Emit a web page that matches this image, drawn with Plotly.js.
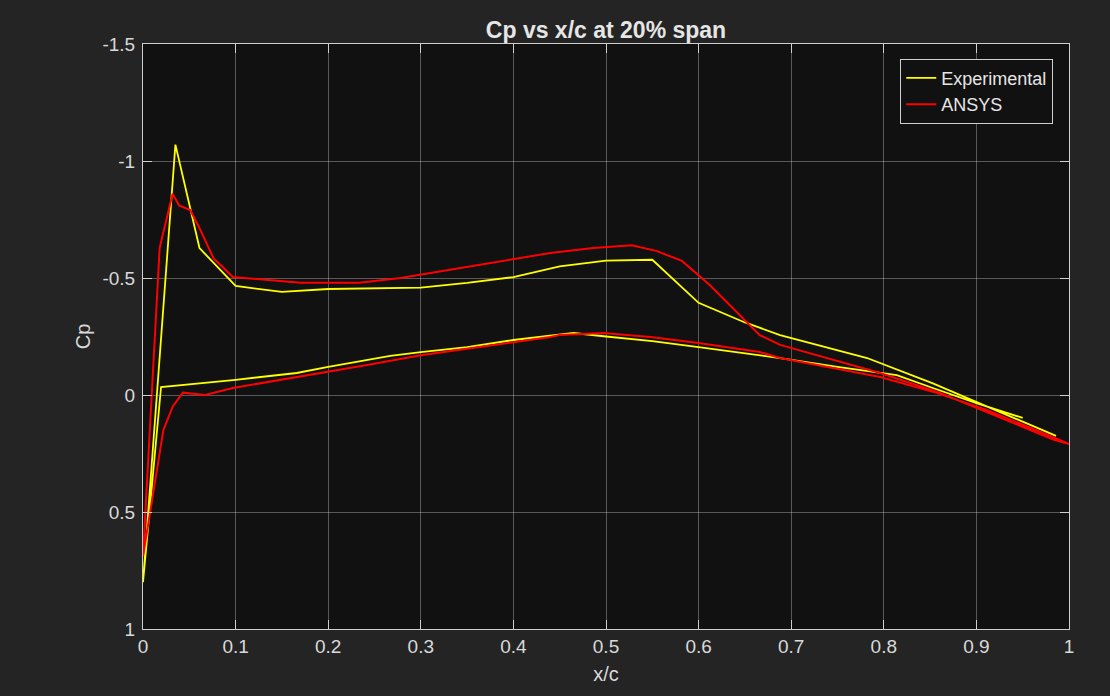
<!DOCTYPE html>
<html>
<head>
<meta charset="utf-8">
<script src="https://cdn.plot.ly/plotly-3.0.1.min.js"></script>
<style>
html,body{margin:0;padding:0;background:#242424;}
#chart{width:1110px;height:696px;}
</style>
</head>
<body>
<div id="chart"></div>
<script>
// Experimental: lower surface TE -> LE, then upper surface LE -> TE
const expX = [0.95, 0.9, 0.853, 0.814, 0.75, 0.688, 0.6, 0.55, 0.5, 0.465, 0.4, 0.35, 0.3, 0.267, 0.2, 0.166, 0.1, 0.062, 0.0195, 0.0,
              0.035, 0.061, 0.1, 0.15, 0.2, 0.3, 0.35, 0.4, 0.45, 0.5, 0.55, 0.6, 0.65, 0.688, 0.782, 0.853, 0.9, 0.986];
const expCp = [0.098, 0.035, -0.03, -0.085, -0.12, -0.158, -0.205, -0.23, -0.25, -0.265, -0.235, -0.205, -0.183, -0.167, -0.12, -0.094, -0.065, -0.05, -0.034, 0.80,
               -1.07, -0.628, -0.466, -0.441, -0.453, -0.459, -0.479, -0.504, -0.55, -0.574, -0.578, -0.394, -0.31, -0.256, -0.158, -0.05, 0.03, 0.175];

// ANSYS: lower surface TE -> LE, then upper surface LE -> TE
const ansX = [1.0, 0.983, 0.911, 0.857, 0.796, 0.688, 0.666, 0.6, 0.548, 0.497, 0.45, 0.44, 0.3, 0.242, 0.097, 0.067, 0.043, 0.032, 0.022, 0.0,
              0.018, 0.032, 0.039, 0.051, 0.062, 0.076, 0.086, 0.097, 0.17, 0.234, 0.278, 0.35, 0.44, 0.486, 0.528, 0.555, 0.582, 0.612, 0.666, 0.688, 0.796, 0.86, 0.983, 1.0];
const ansCp = [0.21, 0.18, 0.064, -0.009, -0.077, -0.158, -0.184, -0.222, -0.248, -0.265, -0.256, -0.248, -0.17, -0.128, -0.03, 0.0, -0.01, 0.05, 0.15, 0.69,
               -0.63, -0.86, -0.81, -0.79, -0.705, -0.585, -0.547, -0.504, -0.48, -0.48, -0.5, -0.547, -0.607, -0.628, -0.64, -0.615, -0.573, -0.47, -0.256, -0.214, -0.094, -0.01, 0.19, 0.21];

const xTicks = [0, 0.1, 0.2, 0.3, 0.4, 0.5, 0.6, 0.7, 0.8, 0.9, 1];
const xTickText = ['0', '0.1', '0.2', '0.3', '0.4', '0.5', '0.6', '0.7', '0.8', '0.9', '1'];
const yTicks = [-1.5, -1, -0.5, 0, 0.5, 1];
const yTickText = ['-1.5', '-1', '-0.5', '0', '0.5', '1'];

const font = 'Liberation Sans, Arial, Helvetica, sans-serif';

const traces = [
  {x: expX, y: expCp, name: 'Experimental', mode: 'lines', line: {color: '#ffff00', width: 1.8}},
  {x: ansX, y: ansCp, name: 'ANSYS', mode: 'lines', line: {color: '#ff0000', width: 2}}
];

const axisCommon = {
  showline: true, mirror: 'ticks', linecolor: '#cfcfcf', linewidth: 1,
  ticks: 'inside', ticklen: 9, tickcolor: '#cfcfcf', tickwidth: 1,
  showgrid: true, gridcolor: 'rgba(255,255,255,0.3)', gridwidth: 1,
  zeroline: false,
  tickfont: {family: font, size: 19, color: '#d9d9d9'}
};

const layout = {
  width: 1110, height: 696,
  paper_bgcolor: '#242424', plot_bgcolor: '#111111',
  margin: {l: 143, r: 41, t: 44, b: 67},
  title: {text: '<b>Cp vs x/c at 20% span</b>', xref: 'paper', x: 0.5, xanchor: 'center', yref: 'container', y: 0.957, yanchor: 'middle',
          font: {family: font, size: 23, color: '#e6e6e6'}},
  xaxis: Object.assign({}, axisCommon, {
    range: [0, 1], tickvals: xTicks, ticktext: xTickText,
    title: {text: 'x/c', font: {family: font, size: 20, color: '#d9d9d9'}, standoff: 11}
  }),
  yaxis: Object.assign({}, axisCommon, {
    range: [1, -1.5], tickvals: yTicks, ticktext: yTickText, ticklabelstandoff: 3,
    title: {text: 'Cp', font: {family: font, size: 20, color: '#d9d9d9'}, standoff: 6}
  }),
  showlegend: true,
  legend: {
    x: 0.983, y: 0.975, xanchor: 'right', yanchor: 'top',
    bgcolor: '#111111', bordercolor: '#d0d0d0', borderwidth: 1,
    font: {family: font, size: 18, color: '#e6e6e6'},
    tracegroupgap: 0, itemwidth: 30
  }
};

Plotly.newPlot('chart', traces, layout, {displayModeBar: false, staticPlot: true});
</script>
</body>
</html>
